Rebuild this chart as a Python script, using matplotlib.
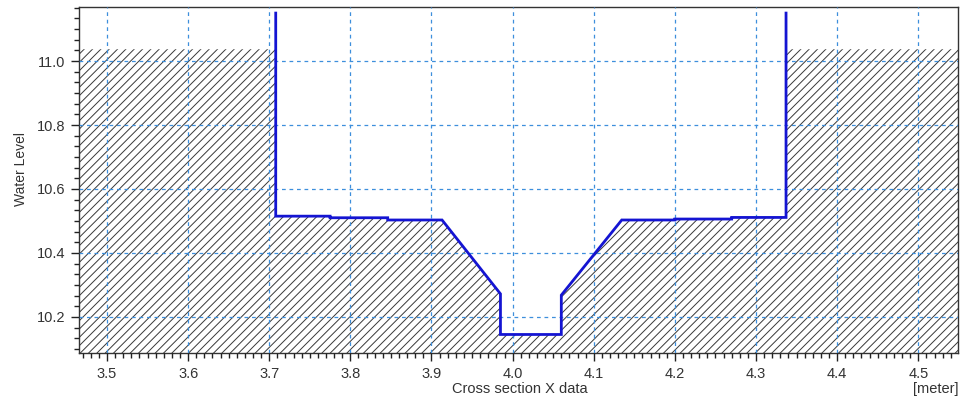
import matplotlib
matplotlib.use("Agg")
import matplotlib.pyplot as plt
from matplotlib.ticker import MultipleLocator, AutoMinorLocator

# ---- data ----
section_x = [3.708, 3.775, 3.775, 3.846, 3.846, 3.913, 3.985, 3.985, 4.060, 4.060,
             4.1345, 4.200, 4.200, 4.270, 4.270, 4.337]
section_y = [10.515, 10.515, 10.510, 10.510, 10.503, 10.503, 10.272, 10.145, 10.145, 10.268,
             10.503, 10.503, 10.506, 10.506, 10.511, 10.511]
bank_level = 11.037
marker_top = 11.15
x_ticks = [3.5, 3.6, 3.7, 3.8, 3.9, 4.0, 4.1, 4.2, 4.3, 4.4, 4.5]
y_ticks = [10.2, 10.4, 10.6, 10.8, 11.0]
xlim = (3.4655, 4.549)
ylim = (10.087, 11.169)

plt.rcParams['font.family'] = ['Liberation Sans', 'DejaVu Sans']
plt.rcParams['hatch.linewidth'] = 0.7
plt.rcParams['hatch.color'] = '#383838'

fig = plt.figure(figsize=(9.68, 4.03), dpi=100)
ax = fig.add_axes([0.0816, 0.124, 0.9081, 0.8586])

# hatched ground
gx = [xlim[0] - 0.1, section_x[0]] + section_x + [section_x[-1], xlim[1] + 0.1]
gy = [bank_level, bank_level] + section_y + [bank_level, bank_level]
ax.fill_between(gx, gy, ylim[0] - 0.1, hatch='////', facecolor='none',
                edgecolor='#383838', linewidth=0, zorder=1)

# cross-section line
lx = [section_x[0]] + section_x + [section_x[-1]]
ly = [marker_top] + section_y + [marker_top]
ax.plot(lx, ly, color='#1414d2', lw=2.0, zorder=3, solid_joinstyle='miter')

ax.set_xlim(*xlim)
ax.set_ylim(*ylim)
ax.set_xticks(x_ticks)
ax.set_yticks(y_ticks)
ax.xaxis.set_minor_locator(MultipleLocator(0.01))
ax.yaxis.set_minor_locator(AutoMinorLocator(6))
ax.set_xticklabels([f"{v:.1f}" for v in x_ticks])
ax.set_yticklabels([f"{v:.1f}" for v in y_ticks])

ax.grid(True, which='major', color='#3d8fdc', linestyle=(0, (3, 3)), linewidth=0.9, zorder=2)
ax.set_axisbelow(False)

ax.tick_params(axis='both', which='major', direction='out', length=6, width=1,
               labelsize=10.5, labelcolor='#333333', color='#222222', pad=4)
ax.tick_params(axis='both', which='minor', direction='out', length=3.5, width=1,
               color='#222222')
for s in ax.spines.values():
    s.set_color('#333333')
    s.set_linewidth(1.0)

fig.text(0.0216, 0.58, 'Water Level', rotation=90, ha='center', va='center',
         fontsize=10, color='#333333')
fig.text(0.537, 0.018, 'Cross section X data', ha='center', va='bottom',
         fontsize=10.5, color='#333333')
fig.text(0.9897, 0.018, '[meter]', ha='right', va='bottom',
         fontsize=10.5, color='#333333')

fig.savefig('out.png', dpi=100)
